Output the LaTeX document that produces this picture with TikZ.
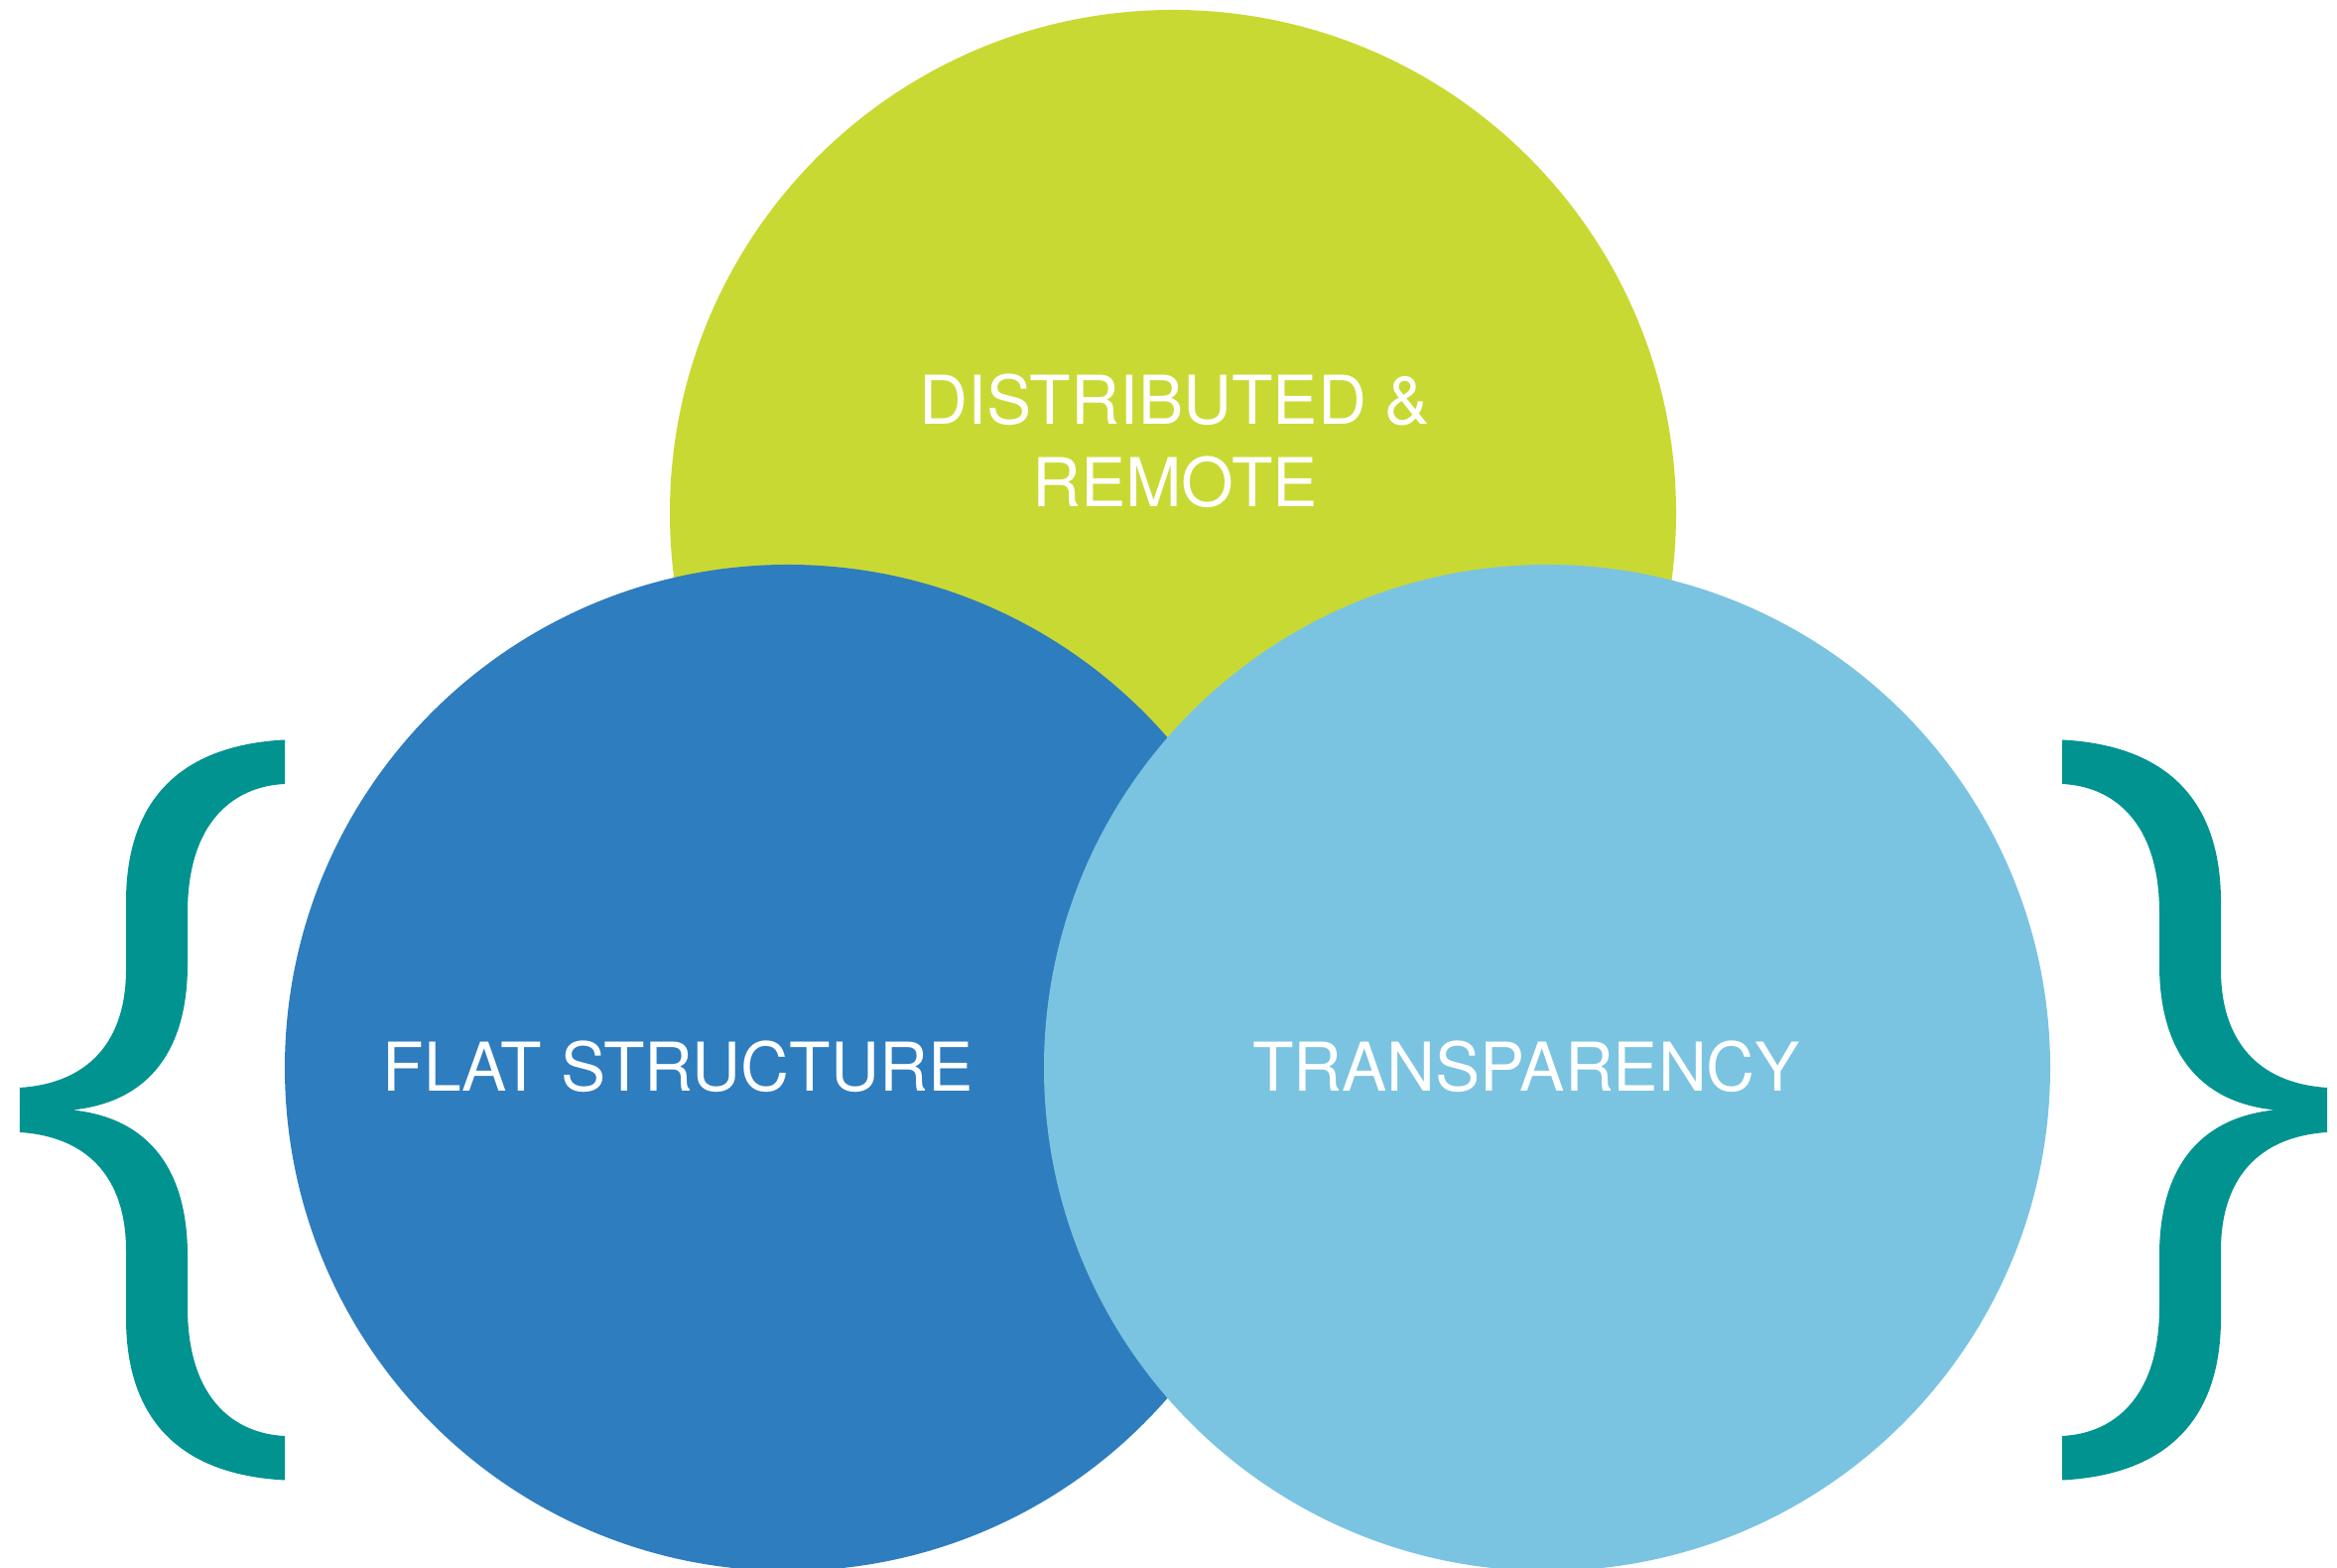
\documentclass[tikz,border=0pt]{standalone}
\usepackage{fontspec}
\setmainfont{TeX Gyre Heros}
\usepackage{tikz}
\usetikzlibrary{shapes, positioning}

\definecolor{lime}{RGB}{201,217,52}
\definecolor{deepblue}{RGB}{46,125,190}
\definecolor{skyblue}{RGB}{122,196,225}
\definecolor{teal}{RGB}{0,147,144}

\tikzset{
  disc/.style={circle, inner sep=0pt, minimum size=10.14cm},
  word/.style={text=white, font=\fontsize{19.3pt}{23.6pt}\selectfont, align=center, inner sep=0pt},
  curly/.pic={
    \fill[teal] (2.67,3.73) -- (2.67,3.285)
      .. controls (2.15,3.26) and (1.69,2.90) .. (1.69,1.985) -- (1.69,1.465)
      .. controls (1.69,0.60) and (1.30,0.08) .. (0.53,0)
      .. controls (1.30,-0.08) and (1.69,-0.60) .. (1.69,-1.465) -- (1.69,-1.985)
      .. controls (1.69,-2.90) and (2.15,-3.26) .. (2.67,-3.285) -- (2.67,-3.73)
      .. controls (1.70,-3.68) and (1.07,-3.20) .. (1.07,-2.095) -- (1.07,-1.415)
      .. controls (1.07,-0.70) and (0.70,-0.27) .. (0,-0.225) -- (0,0.225)
      .. controls (0.70,0.27) and (1.07,0.70) .. (1.07,1.415) -- (1.07,2.095)
      .. controls (1.07,3.20) and (1.70,3.68) .. (2.67,3.73) -- cycle;
  }
}

\begin{document}
\begin{tikzpicture}
  \useasboundingbox (0,0) rectangle (23.55,15.80);

  \node[disc, fill=lime] (remote) at (11.82,10.63) {};
  \node[disc, fill=deepblue] (flat) at (7.94,5.04) {};
  \node[disc, fill=skyblue] (transp) at (15.59,5.04) {};

  \node[word] (remotetext) at (11.84,11.355) {DISTRIBUTED \&\\REMOTE};
  \node[word] (flattext) at (6.83,5.05) {FLAT STRUCTURE};
  \node[word] (transptext) at (15.38,5.05) {TRANSPARENCY};

  % braces either side
  \pic (leftbrace) at (0.20,4.615) {curly};
  \pic[xscale=-1] (rightbrace) at (23.45,4.615) {curly};
\end{tikzpicture}
\end{document}
